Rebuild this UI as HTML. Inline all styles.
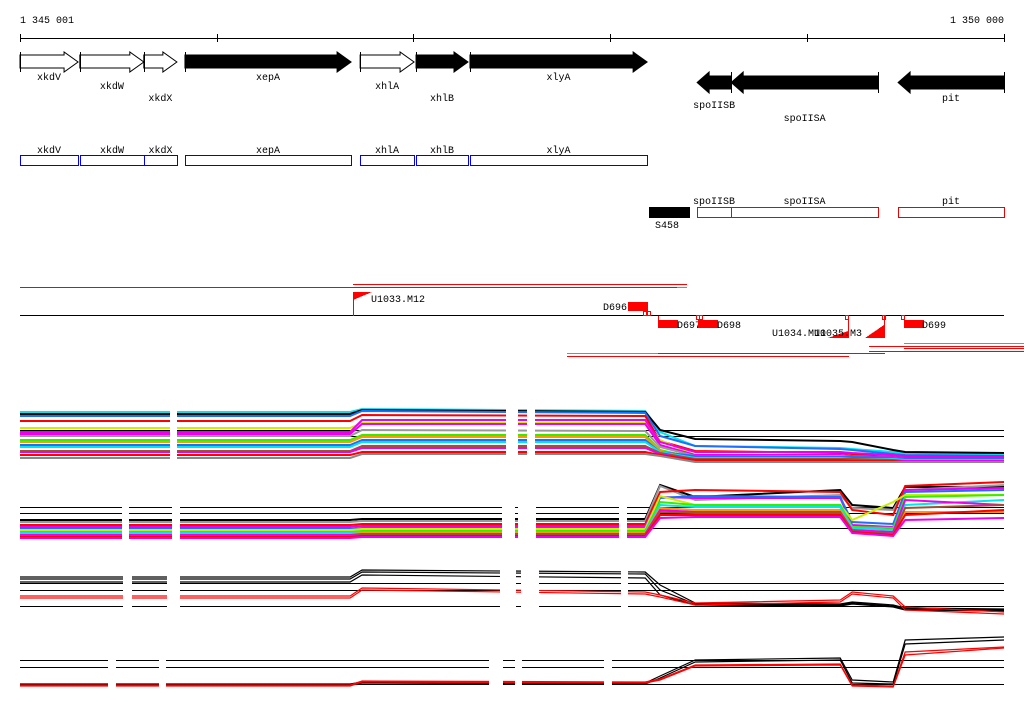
<!DOCTYPE html>
<html><head><meta charset="utf-8"><style>
html,body{margin:0;padding:0;background:#fff;}
svg{display:block;font-family:"Liberation Mono","DejaVu Sans Mono",monospace;font-size:10px;}
</style></head><body>
<svg id="chart" width="1024" height="714" viewBox="0 0 1024 714" shape-rendering="crispEdges"></svg>
<script>
// ---- data ----
const regionStart = 1345001, regionEnd = 1350000;
const tickPositions = [1345001, 1346000, 1347000, 1348000, 1349000, 1350000];
const geneNames = ["xkdV","xkdW","xkdX","xepA","xhlA","xhlB","xlyA","spoIISB","spoIISA","pit"];
const geneStarts = [1345001,1345305,1345630,1345839,1346729,1347013,1347287,1348441,1348614,1349462];
const geneEnds   = [1345296,1345630,1345798,1346683,1347003,1347277,1348187,1348614,1349360,1350000];
const geneStrand = [1,1,1,1,1,1,1,-1,-1,-1];
const geneFilled = [0,0,0,1,0,1,1,1,1,1];
const geneLabelRow = [0,1,2,0,1,2,0,3,4,2];
const blueIdx = [0,1,2,3,4,5,6];
const redIdx = [7,8,9];
// expression track knots (bp) and series (y values)
const knots = [1345001,1346678,1346739,1348177,1348253,1348431,1349168,1349229,1349437,1349498,1350000];
const band1 = [
 ["#00e5ee",[412,412,409,411,432,446,448,449,452,453,455]],
 ["#000000",[414,414,410,412,430,439,441,442,450,452,453]],
 ["#1e6fff",[416,416,411,413,436,446,449,450,454,455,456]],
 ["#ff0000",[421,421,415,416,441,451,453,454,456,457,457]],
 ["#c8f000",[428,428,423,423,440,455,456,456,457,458,458]],
 ["#ee00ee",[432,432,420,420,442,452,452,453,455,456,456]],
 ["#ee00ee",[434,434,424,424,445,455,455,456,457,458,458]],
 ["#999999",[436,436,430,431,447,456,456,457,458,459,459]],
 ["#33ee00",[440,440,435,435,450,458,458,459,459,460,460]],
 ["#ff9900",[442,442,437,437,451,457,457,458,459,460,460]],
 ["#1e6fff",[445,445,440,440,452,456,457,457,458,459,459]],
 ["#00e5ee",[447,447,442,442,452,458,458,459,459,460,460]],
 ["#a0522d",[451,451,446,446,453,459,459,459,460,461,461]],
 ["#ee00ee",[452,452,448,448,454,460,460,460,461,461,461]],
 ["#ff0000",[455,455,452,452,455,460,460,461,461,462,462]],
 ["#888888",[458,458,454,454,456,462,462,462,462,462,462]]
];
const band2 = [
 ["#000000",[520,520,519,519,485,497,490,505,508,487,487]],
 ["#999999",[522,522,521,521,486,500,495,508,510,490,485]],
 ["#ff0000",[525,525,524,524,492,490,492,510,515,486,482]],
 ["#ee00ee",[527,527,526,526,497,498,498,525,527,490,488]],
 ["#1e6fff",[529,529,528,528,498,496,497,522,524,492,490]],
 ["#c8f000",[530,530,529,529,496,505,505,520,502,495,495]],
 ["#33ee00",[532,532,531,531,502,505,505,527,528,497,495]],
 ["#00e5ee",[533,533,532,532,505,507,507,528,530,505,500]],
 ["#ff9900",[534,534,533,533,508,510,510,530,533,512,512]],
 ["#ee00ee",[535,535,534,534,510,512,512,530,532,500,505]],
 ["#a0522d",[536,536,535,535,512,513,513,531,534,508,505]],
 ["#ff0000",[537,537,536,536,515,515,515,532,535,515,510]],
 ["#ee00ee",[538,538,537,537,518,517,517,533,536,520,518]]
];
const band3 = [
 ["#000000",[577,577,570,572,585,603,604,602,605,608,609]],
 ["#000000",[579,579,572,574,590,604,605,603,606,609,610]],
 ["#000000",[582,582,575,578,595,605,606,604,607,610,611]],
 ["#ff0000",[596,596,588,592,595,603,600,592,596,607,612]],
 ["#ff0000",[598,598,590,594,597,605,602,594,598,610,614]]
];
const band4 = [
 ["#000000",[684,684,682,683,676,660,658,680,682,640,637]],
 ["#000000",[685,685,683,684,678,662,660,683,684,644,640]],
 ["#ff0000",[685,685,681,682,679,665,664,685,686,652,647]],
 ["#ff0000",[686,686,682,683,680,666,665,686,687,655,648]]
];
const refLines = [[430,436],[507,513,528],[583,590,606],[660,667,684]];
const gapsPx = [
 [[170,177],[506,518],[527,535]],
 [[122,129],[172,180],[502,515],[518,536],[619,627]],
 [[123,132],[167,180],[500,516],[521,539],[621,628]],
 [[108,116],[159,166],[489,503],[515,522],[604,612]]
];
const bandRanges = [[408,464],[480,542],[565,618],[632,692]];

// ---- helpers ----
const svg = document.getElementById('chart');
const NS = 'http://www.w3.org/2000/svg';
const X0 = 20, X1 = 1004;
function x(bp){ return X0 + (bp - regionStart) / (regionEnd - regionStart) * (X1 - X0); }
function mk(tag, attrs, parent){ const e = document.createElementNS(NS, tag); for (const k in attrs) e.setAttribute(k, attrs[k]); (parent||svg).appendChild(e); return e; }
function txt(s, tx, ty, anchor, fill){ const t = mk('text',{x:tx,y:ty,'text-anchor':anchor||'middle',fill:fill||'#000'}); t.textContent = s; return t; }

// ---- ruler ----
let ruler = mk('g',{});


mk('line',{x1:X0,y1:38.5,x2:X1,y2:38.5,stroke:'#000'},ruler);
tickPositions.forEach(p=>{ mk('line',{x1:Math.round(x(p))+0.5,y1:34,x2:Math.round(x(p))+0.5,y2:42,stroke:'#000'},ruler); });
let l1 = txt('1 345 001',20,23,'start');  
let l2 = txt('1 350 000',1004,23,'end');  

// ---- gene arrows ----
const labelY = [80,89,101,108,121];
geneNames.forEach((n,i)=>{
  const g = mk('g',{});
  
  
  const a = x(geneStarts[i]), b = x(geneEnds[i]);
  const fill = geneFilled[i] ? '#000' : '#fff';
  let pts;
  if (geneStrand[i] > 0){
    const yT = 52, yB = 72, bT = 55, bB = 68, h = Math.min(14, b-a-4);
    pts = [[a,bT],[b-h,bT],[b-h,yT],[b,62],[b-h,yB],[b-h,bB],[a,bB]];
    mk('polygon',{points:pts.map(p=>p.join(',')).join(' '),fill:fill,stroke:'#000','stroke-width':1,'shape-rendering':'auto'},g);
    mk('line',{x1:Math.round(a)+0.5,y1:yT,x2:Math.round(a)+0.5,y2:yB,stroke:'#000'},g);
  } else {
    const yT = 72, yB = 93, bT = 76, bB = 89, h = 12;
    pts = [[b,bT],[a+h,bT],[a+h,yT],[a,82.5],[a+h,yB],[a+h,bB],[b,bB]];
    mk('polygon',{points:pts.map(p=>p.join(',')).join(' '),fill:fill,stroke:'#000','stroke-width':1,'shape-rendering':'auto'},g);
    mk('line',{x1:Math.round(b)+0.5,y1:yT,x2:Math.round(b)+0.5,y2:yB,stroke:'#000'},g);
  }
  const t = txt(n,(a+b)/2,labelY[geneLabelRow[i]]); g.appendChild(t);
});

// ---- blue annotation boxes ----
blueIdx.forEach(i=>{
  const g = mk('g',{});
  
  
  const a = Math.round(x(geneStarts[i])), b = Math.round(x(geneEnds[i]));
  mk('rect',{x:a+0.5,y:155.5,width:b-a,height:10,fill:'none',stroke:'#0000ee'},g);
  g.appendChild(txt(geneNames[i],(a+b)/2,153));
});
redIdx.forEach(i=>{
  const g = mk('g',{});
  
  
  const a = Math.round(x(geneStarts[i])), b = Math.round(x(geneEnds[i]));
  mk('rect',{x:a+0.5,y:207.5,width:b-a,height:10,fill:'none',stroke:'#ee0000'},g);
  g.appendChild(txt(geneNames[i],(a+b)/2,204));
});
let s458 = mk('g',{});


mk('rect',{x:649,y:207,width:41,height:11,fill:'#000'},s458);
s458.appendChild(txt('S458',667,228));

// ---- feature / transcript track ----
const ft = mk('g',{});


function hl(x1,x2,y,c){ mk('line',{x1:x1,y1:y+0.5,x2:x2,y2:y+0.5,stroke:c},ft); }
function vl(xx,y1,y2,c){ mk('line',{x1:xx+0.5,y1:y1,x2:xx+0.5,y2:y2,stroke:c},ft); }
hl(353,687,284,'#ff0000'); hl(20,677,287,'#ff0000'); hl(677,687,287,'#00ee00');
hl(20,1004,315,'#000');
vl(353,292,316,'#ff0000');
mk('polygon',{points:'353,292 372,292 353,300',fill:'#ff0000'},ft);
ft.appendChild(txt('U1033.M12',371,302,'start'));
mk('rect',{x:628,y:302,width:20,height:9,fill:'#ff0000'},ft);
ft.appendChild(txt('D696',627,310,'end'));
mk('rect',{x:643.5,y:311.5,width:3,height:4,fill:'none',stroke:'#ff0000'},ft);
mk('rect',{x:647.5,y:311.5,width:3,height:4,fill:'none',stroke:'#ff0000'},ft);
vl(658,316,320,'#ff0000');
mk('rect',{x:658,y:320,width:20,height:8,fill:'#ff0000'},ft);
ft.appendChild(txt('D697',677,328,'start'));
mk('rect',{x:696.5,y:315.5,width:3,height:4,fill:'none',stroke:'#ff0000'},ft);
mk('rect',{x:699.5,y:315.5,width:3,height:4,fill:'none',stroke:'#ff0000'},ft);
mk('rect',{x:698,y:320,width:20,height:8,fill:'#ff0000'},ft);
ft.appendChild(txt('D698',717,328,'start'));
mk('rect',{x:845.5,y:315.5,width:3,height:4,fill:'none',stroke:'#ff0000'},ft);
vl(848,316,338,'#ff0000');
mk('polygon',{points:'828,338 848,331 848,338',fill:'#ff0000'},ft);
ft.appendChild(txt('U1034.M10',772,336,'start'));
mk('rect',{x:882.5,y:315.5,width:3,height:4,fill:'none',stroke:'#ff0000'},ft);
vl(884,316,338,'#ff0000');
mk('polygon',{points:'865,338 884,325 884,338',fill:'#ff0000'},ft);
ft.appendChild(txt('U1035.M3',814,336,'start'));
mk('rect',{x:901.5,y:315.5,width:3,height:4,fill:'none',stroke:'#ff0000'},ft);
mk('rect',{x:904,y:320,width:20,height:8,fill:'#ff0000'},ft);
ft.appendChild(txt('D699',922,328,'start'));
hl(904,1024,343,'#00ee00'); hl(869,1024,346,'#ff0000'); hl(904,1024,348,'#ff0000'); hl(869,1024,351,'#ff0000');
hl(567,658,353,'#00ee00'); hl(658,885,353,'#ff0000'); hl(567,849,356,'#ff0000');

// ---- expression bands ----
const bands = [band1, band2, band3, band4];
const bandWidths = [2,2,1.2,1.2];
bands.forEach((band,bi)=>{
  const g = mk('g',{'shape-rendering':'auto'});
  
  
  refLines[bi].forEach(y=>{ mk('line',{x1:X0,y1:y+0.5,x2:X1,y2:y+0.5,stroke:'#000','shape-rendering':'crispEdges'},g); });
  band.forEach((s,si)=>{
    const d = s[1].map((v,k)=>(k?'L':'M')+x(knots[k]).toFixed(1)+','+v).join(' ');
    const p = mk('path',{d:d,fill:'none',stroke:s[0],'stroke-width':bandWidths[bi]},g);
    
    
  });
  gapsPx[bi].forEach(gp=>{
    mk('rect',{x:gp[0],y:bandRanges[bi][0],width:gp[1]-gp[0],height:bandRanges[bi][1]-bandRanges[bi][0],fill:'#fff','shape-rendering':'crispEdges'},g);
  });
});
</script>
</body></html>
